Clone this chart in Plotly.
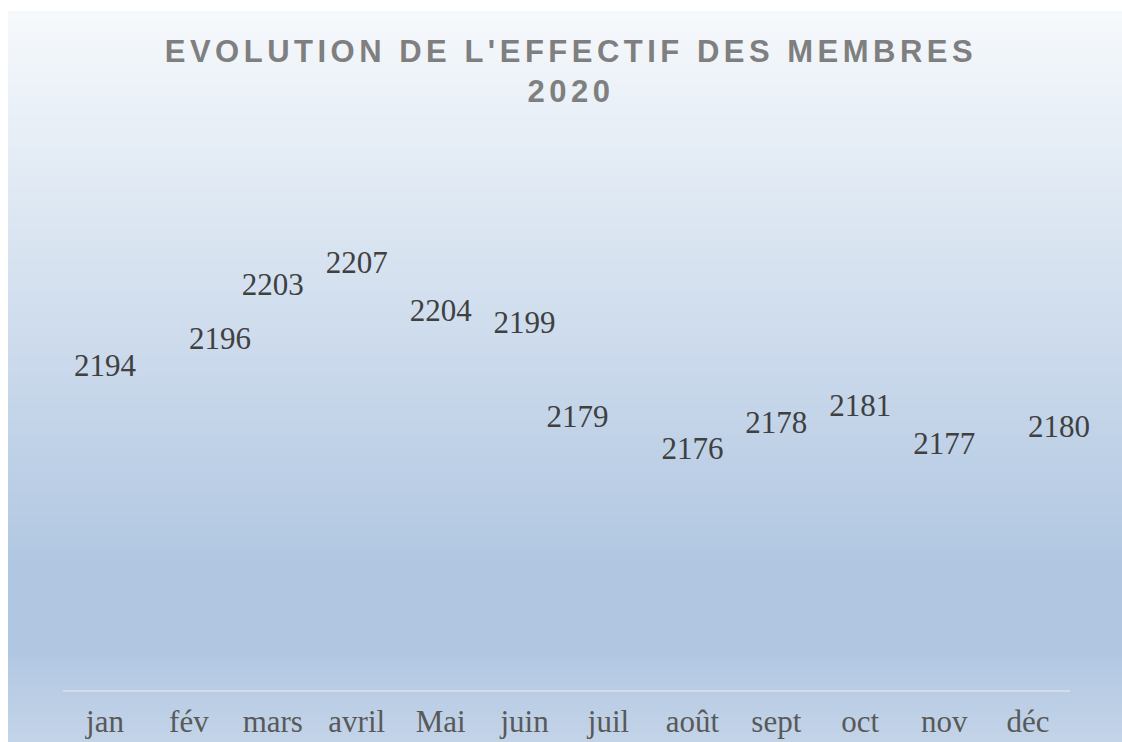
import plotly.graph_objects as go

# ---- data ----
months = ["jan", "fév", "mars", "avril", "Mai", "juin", "juil", "août", "sept", "oct", "nov", "déc"]
members = [2194, 2196, 2203, 2207, 2204, 2199, 2179, 2176, 2178, 2181, 2177, 2180]
title_line1 = "EVOLUTION DE L'EFFECTIF DES MEMBRES"
title_line2 = "2020"

# ---- style ----
label_positions = ["bottom center", "middle right", "top center", "top center",
                   "bottom center", "middle center", "top left", "middle center",
                   "top center", "top center", "middle center", "middle right"]

W, H = 1122, 742
ML, MR, MT, MB = 63, 52, 100, 52
plot_w = W - ML - MR
plot_h = H - MT - MB

# vertical gradient of the chart area (pixel y, rgb)
stops = [(11, (246, 249, 252)), (575, (176, 198, 225)), (645, (176, 198, 225)), (775, (202, 217, 235))]


def grad_color(py):
    if py <= stops[0][0]:
        c = stops[0][1]
    elif py >= stops[-1][0]:
        c = stops[-1][1]
    else:
        for (y0, c0), (y1, c1) in zip(stops[:-1], stops[1:]):
            if y0 <= py <= y1:
                t = (py - y0) / (y1 - y0)
                c = tuple(round(a + (b - a) * t) for a, b in zip(c0, c1))
                break
    return "rgb(%d,%d,%d)" % c


def px_x(px):
    return (px - ML) / plot_w


def px_y(py):
    return (H - MB - py) / plot_h


shapes = []
step = 3
top_px, bot_px, left_px, right_px = 11, H + 4, 8, W + 4
py = top_px
while py < bot_px:
    shapes.append(dict(type="rect", xref="paper", yref="paper",
                       x0=px_x(left_px), x1=px_x(right_px),
                       y0=px_y(min(py + step + 0.6, bot_px)), y1=px_y(py),
                       fillcolor=grad_color(py + step / 2), line=dict(width=0),
                       layer="below"))
    py += step

fig = go.Figure()
fig.add_trace(go.Scatter(
    x=months, y=members, mode="text",
    text=[str(v) for v in members],
    textposition=label_positions,
    textfont=dict(family="Liberation Serif", size=31, color="#404040"),
    hoverinfo="skip", showlegend=False, cliponaxis=False,
))

ls = "letter-spacing:4.5px"
title_text = ('<span style="%s">%s</span><br><span style="%s">%s</span>'
              % (ls, title_line1, ls, title_line2))

fig.update_layout(
    width=W, height=H,
    margin=dict(l=ML, r=MR, t=MT, b=MB, pad=0),
    paper_bgcolor="white",
    plot_bgcolor="rgba(0,0,0,0)",
    shapes=shapes,
    title=dict(text=title_text, x=571 / W, xref="container", xanchor="center",
               y=1 - 62 / H, yref="container", yanchor="top",
               font=dict(family="Liberation Sans", size=31, color="#7f7f7f", weight="bold")),
    xaxis=dict(type="category", range=[-0.5, 11.5], showline=True, linecolor="#d5dce6",
               linewidth=1.5, showgrid=False, zeroline=False, ticks="",
               ticklabelstandoff=3,
               tickfont=dict(family="Liberation Serif", size=31, color="#595959"),
               automargin=False, fixedrange=True),
    yaxis=dict(range=[2132.6, 2239.9], visible=False, fixedrange=True),
    showlegend=False,
)

fig.write_html("out.html")
